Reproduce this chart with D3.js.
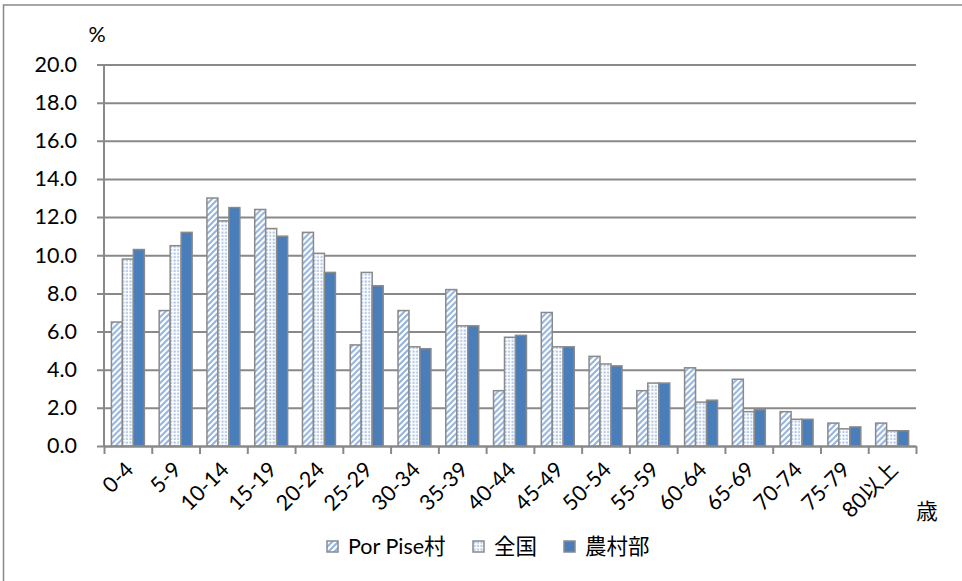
<!DOCTYPE html>
<html>
<head>
<meta charset="utf-8">
<script src="https://cdn.jsdelivr.net/npm/d3@7/dist/d3.min.js"></script>
<style>
    body { margin: 0; background: #fff; }
    text { font-family: Lato, "Noto Sans CJK JP", sans-serif; fill: #000; }
</style>
</head>
<body>
<script>
(function(){

//age groups along the x axis
var categories = ["0-4", "5-9", "10-14", "15-19", "20-24", "25-29", "30-34", "35-39", "40-44",
    "45-49", "50-54", "55-59", "60-64", "65-69", "70-74", "75-79", "80以上"];

//series names, in legend order
var seriesNames = ["Por Pise村", "全国", "農村部"];

//series values (%)
var porPise = [6.5, 7.1, 13.0, 12.4, 11.2, 5.3, 7.1, 8.2, 2.9, 7.0, 4.7, 2.9, 4.1, 3.5, 1.8, 1.2, 1.2];
var zenkoku = [9.8, 10.5, 11.8, 11.4, 10.1, 9.1, 5.2, 6.3, 5.7, 5.2, 4.3, 3.3, 2.3, 1.8, 1.4, 0.9, 0.8];
var noson = [10.3, 11.2, 12.5, 11.0, 9.1, 8.4, 5.1, 6.3, 5.8, 5.2, 4.2, 3.3, 2.4, 1.9, 1.4, 1.0, 0.8];

//y tick values
var yTicks = [0, 2, 4, 6, 8, 10, 12, 14, 16, 18, 20];

//frame dimensions
var width = 962,
    height = 581,
    plotLeft = 104,
    plotRight = 916,
    plotTop = 64.5,
    plotBottom = 446,
    fontSize = 21.5;

var gridColor = "#898989",
    blue = "#4a7ebb",
    lightBlue = "#93b3dd";

var svg = d3.select("body")
    .append("svg")
    .attr("width", width)
    .attr("height", height);

//scales
var x0 = d3.scaleBand()
    .domain(categories)
    .range([plotLeft, plotRight])
    .paddingInner(0.31)
    .paddingOuter(0.155);

var x1 = d3.scaleBand()
    .domain([0, 1, 2])
    .range([0, x0.bandwidth()]);

var y = d3.scaleLinear()
    .domain([0, 20])
    .range([plotBottom, plotTop]);

//patterns for the bar fills
var defs = svg.append("defs");

var diag = defs.append("pattern")
    .attr("id", "diag")
    .attr("patternUnits", "userSpaceOnUse")
    .attr("width", 6)
    .attr("height", 6);
diag.append("rect").attr("width", 6).attr("height", 6).attr("fill", "#fff");
diag.append("path")
    .attr("d", "M-1,7 L7,-1 M-1,1 L1,-1 M5,7 L7,5")
    .attr("stroke", lightBlue)
    .attr("stroke-width", 2);

var dots = defs.append("pattern")
    .attr("id", "dots")
    .attr("patternUnits", "userSpaceOnUse")
    .attr("width", 3.5)
    .attr("height", 3.5);
dots.append("rect").attr("width", 3.5).attr("height", 3.5).attr("fill", "#fff");
dots.append("rect")
    .attr("x", 0.5).attr("y", 0.5)
    .attr("width", 2).attr("height", 2)
    .attr("fill", "#a9c2e4");

//dark pattern: one pale dot per bar column every 20px
var dark = defs.append("pattern")
    .attr("id", "dark")
    .attr("patternUnits", "userSpaceOnUse")
    .attr("x", x0(categories[0]) + x1(2))
    .attr("y", plotBottom - 10)
    .attr("width", x0.step())
    .attr("height", 19.5);
dark.append("rect").attr("width", x0.step()).attr("height", 19.5).attr("fill", blue);
dark.append("rect")
    .attr("x", x1.bandwidth() / 2 - 0.8)
    .attr("y", 0)
    .attr("width", 1.6).attr("height", 1.6)
    .attr("fill", "#c9d8ee");

var fills = ["url(#diag)", "url(#dots)", "url(#dark)"];

//outer chart border
svg.append("rect")
    .attr("x", 3.5)
    .attr("y", 5)
    .attr("width", width + 10)
    .attr("height", height + 10)
    .attr("fill", "none")
    .attr("stroke", gridColor)
    .attr("stroke-width", 1.5);

//gridlines and y axis
var yAxis = svg.append("g")
    .attr("transform", "translate(" + plotLeft + ",0)")
    .call(d3.axisLeft(y)
        .tickValues(yTicks)
        .tickFormat(d3.format(".1f"))
        .tickSize(7)
        .tickPadding(20));
yAxis.select(".domain").remove();
yAxis.selectAll(".tick line")
    .attr("stroke", gridColor)
    .attr("stroke-width", 2)
    .attr("x1", -7)
    .attr("x2", plotRight - plotLeft);
yAxis.selectAll(".tick text")
    .attr("font-size", fontSize)
    .style("font-family", "Lato, sans-serif");

//bars
var data = [porPise, zenkoku, noson];
var groups = svg.selectAll(".group")
    .data(categories)
    .enter()
    .append("g")
    .attr("class", "group")
    .attr("transform", function(d){ return "translate(" + x0(d) + ",0)"; });

groups.selectAll("rect")
    .data(function(d, i){
        return data.map(function(s, k){ return { k: k, v: s[i] }; });
    })
    .enter()
    .append("rect")
    .attr("x", function(d){ return x1(d.k); })
    .attr("width", x1.bandwidth())
    .attr("y", function(d){ return y(d.v); })
    .attr("height", function(d){ return plotBottom - y(d.v); })
    .attr("fill", function(d){ return fills[d.k]; })
    .attr("stroke", "#8a8a8a")
    .attr("stroke-width", 1.5);

//vertical axis line
svg.append("line")
    .attr("x1", plotLeft).attr("x2", plotLeft)
    .attr("y1", plotTop).attr("y2", plotBottom)
    .attr("stroke", gridColor)
    .attr("stroke-width", 2);

//x axis with ticks between categories
var xTick = d3.scaleLinear()
    .domain([0, categories.length])
    .range([plotLeft, plotRight]);

var xAxis = svg.append("g")
    .attr("transform", "translate(0," + plotBottom + ")")
    .call(d3.axisBottom(xTick)
        .tickValues(d3.range(categories.length + 1))
        .tickFormat("")
        .tickSize(8)
        .tickSizeOuter(0));
xAxis.select(".domain")
    .attr("stroke", gridColor)
    .attr("stroke-width", 2);
xAxis.selectAll(".tick line")
    .attr("stroke", gridColor)
    .attr("stroke-width", 2);

//rotated category labels
svg.selectAll(".xlabel")
    .data(categories)
    .enter()
    .append("text")
    .attr("class", "xlabel")
    .attr("font-size", fontSize)
    .attr("text-anchor", "end")
    .attr("transform", function(d){
        var cx = x0(d) + x0.bandwidth() / 2 + 7;
        return "translate(" + cx + "," + 471 + ") rotate(-45)";
    })
    .text(function(d){ return d; });

//axis unit labels
svg.append("text")
    .attr("x", 97)
    .attr("y", 42)
    .attr("font-size", fontSize)
    .attr("text-anchor", "middle")
    .text("%");

svg.append("text")
    .attr("x", 927)
    .attr("y", 519)
    .attr("font-size", fontSize)
    .attr("text-anchor", "middle")
    .text("歳");

//legend
var legendX = [327, 473, 564];
var legend = svg.selectAll(".legend")
    .data(seriesNames)
    .enter()
    .append("g")
    .attr("class", "legend")
    .attr("transform", function(d, i){ return "translate(" + legendX[i] + ",541)"; });

legend.append("rect")
    .attr("width", 11)
    .attr("height", 11)
    .attr("fill", function(d, i){ return fills[i]; })
    .attr("stroke", "#8a8a8a")
    .attr("stroke-width", 1.5);

legend.append("text")
    .attr("x", 21)
    .attr("y", 13)
    .attr("font-size", fontSize)
    .text(function(d){ return d; });

})();
</script>
</body>
</html>
